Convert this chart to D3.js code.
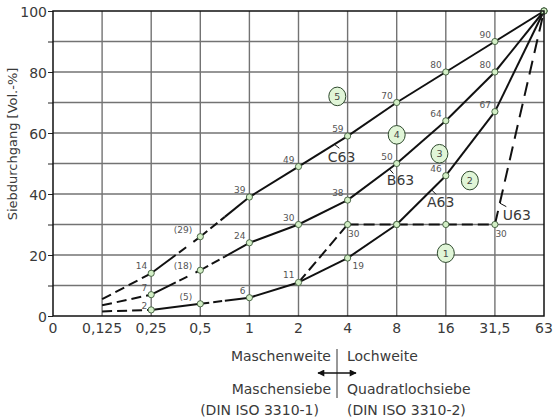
<!DOCTYPE html>
<html>
<head>
<meta charset="utf-8">
<script src="https://cdn.jsdelivr.net/npm/d3@7"></script>
<style>
body { margin: 0; background: #fff; }
text { font-family: "DejaVu Sans", "Liberation Sans", Arial, sans-serif; }
</style>
</head>
<body>
<div id="chart"></div>
<script>
/* Siebweiten (mm), Index 0..10 */
var sieveSizes = ["0", "0,125", "0,25", "0,5", "1", "2", "4", "8", "16", "31,5", "63"];
var yTicks = [0, 10, 20, 30, 40, 50, 60, 70, 80, 90, 100];

/* Siebdurchgang ab Sieb 0,125 (Index 1) bis 63 (Index 10) */
var c63 = [5.5, 14, 26, 39, 49, 59, 70, 80, 90, 100];
var b63 = [3.5, 7, 15, 24, 30, 38, 50, 64, 80, 100];
var a63 = [1.5, 2, 4, 6, 11, 19, 30, 46, 67, 100];
var u63 = [null, null, null, null, 11, 30, 30, 30, 30, 100];

var c63Labels = [null, "14", "(29)", "39", "49", "59", "70", "80", "90", null];
var b63Labels = [null, "7", "(18)", "24", "30", "38", "50", "64", "80", null];
var a63Labels = [null, "2", "(5)", "6", "11", "19", null, "46", "67", null];
var u63Labels = [null, null, null, null, null, "30", null, null, "30", null];

var curveNames = ["C63", "B63", "A63", "U63"];

/* Bereichsnummern: Lage als Siebindex und Durchgang */
var zoneNumbers = ["1", "2", "3", "4", "5"];
var zoneIndex = [8, 8.49, 7.87, 7, 5.79];
var zoneValue = [20.6, 44.4, 53.2, 59.4, 72];

var width = 555,
    height = 419,
    margin = {top: 11, right: 11, bottom: 103, left: 53};

var svg = d3.select("#chart").append("svg")
    .attr("width", width)
    .attr("height", height);

var x = d3.scaleLinear().domain([0, sieveSizes.length - 1]).range([margin.left, width - margin.right]),
    y = d3.scaleLinear().domain([0, 100]).range([height - margin.bottom, margin.top]);

/* grid */
var grid = svg.append("g");
grid.selectAll("line.v")
    .data(d3.range(1, sieveSizes.length - 1))
    .enter().append("line")
    .attr("x1", function(d) { return x(d); })
    .attr("x2", function(d) { return x(d); })
    .attr("y1", y(0))
    .attr("y2", y(100))
    .attr("stroke", "#737373")
    .attr("stroke-width", 1.4);
grid.selectAll("line.h")
    .data(yTicks.slice(1, -1))
    .enter().append("line")
    .attr("x1", x(0))
    .attr("x2", x(10))
    .attr("y1", function(d) { return y(d); })
    .attr("y2", function(d) { return y(d); })
    .attr("stroke", "#737373")
    .attr("stroke-width", 1.4);

/* axes */
var yAxis = d3.axisLeft(y)
    .tickValues(yTicks)
    .tickSize(5)
    .tickPadding(1)
    .tickFormat(function(d) { return d % 20 == 0 ? d : ""; });

var gy = svg.append("g")
    .attr("transform", "translate(" + margin.left + ",0)")
    .call(yAxis);
gy.select(".domain").remove();
gy.selectAll("line").attr("stroke", "#222").attr("stroke-width", 1);
gy.selectAll("text")
    .attr("font-size", 14)
    .attr("fill", "#3a3a3a")
    .attr("font-family", "DejaVu Sans, Liberation Sans, Arial, sans-serif")
    .attr("dy", "0.42em");

svg.append("g").selectAll("text")
    .data(sieveSizes)
    .enter().append("text")
    .attr("x", function(d, i) { return x(i); })
    .attr("y", y(0) + 16.5)
    .attr("text-anchor", "middle")
    .attr("font-size", 14)
    .attr("fill", "#3a3a3a")
    .text(function(d) { return d; });

svg.append("text")
    .attr("transform", "translate(17,144) rotate(-90)")
    .attr("text-anchor", "middle")
    .attr("font-size", 13)
    .attr("fill", "#3a3a3a")
    .text("Siebdurchgang [Vol.-%]");

/* curves */
var curves = [
    {name: "C63", values: c63, labels: c63Labels,
     seg: ["ext", "solidDash", "dashSolid", "solid", "solid", "solid", "solid", "solid", "solid"]},
    {name: "B63", values: b63, labels: b63Labels,
     seg: ["ext", "solidDash", "dashSolid", "solid", "solid", "solid", "solid", "solid", "solid"]},
    {name: "A63", values: a63, labels: a63Labels,
     seg: ["ext", "solid", "dashSolid", "solid", "solid", "solid", "solid", "solid", "solid"]},
    {name: "U63", values: u63, labels: u63Labels,
     seg: [null, null, null, null, "long", "long", "long", "long", "steep"]}
];

var lines = svg.append("g")
    .attr("fill", "none")
    .attr("stroke", "#111")
    .attr("stroke-width", 2);

function drawPart(x1, y1, x2, y2, dash) {
    var l = lines.append("line")
        .attr("x1", x1).attr("y1", y1)
        .attr("x2", x2).attr("y2", y2);
    if (dash) l.attr("stroke-dasharray", dash);
}

curves.forEach(function(c) {
    c.seg.forEach(function(s, i) {
        if (!s) return;
        var x1 = x(i + 1), y1 = y(c.values[i]),
            x2 = x(i + 2), y2 = y(c.values[i + 1]),
            xm = (x1 + x2) / 2, ym = (y1 + y2) / 2;
        if (s == "solid") drawPart(x1, y1, x2, y2);
        else if (s == "ext") drawPart(x1, y1, x2, y2, "10,5");
        else if (s == "long") drawPart(x1, y1, x2, y2, "11,5");
        else if (s == "steep") drawPart(x1, y1, x2, y2, "14,8");
        else if (s == "solidDash") {
            drawPart(x1, y1, xm, ym);
            drawPart(xm, ym, x2, y2, "0,4,9,5");
        } else if (s == "dashSolid") {
            drawPart(x1, y1, xm, ym, "9,4");
            drawPart(xm, ym, x2, y2);
        }
    });
});

/* points */
var pts = [];
curves.forEach(function(c) {
    c.values.forEach(function(v, i) {
        if (v == null || i == 0) return;
        if (c.name == "U63" && (i == 4 || i == 9)) return;
        pts.push({curve: c.name, i: i + 1, v: v, label: c.labels[i]});
    });
});

svg.append("g").selectAll("circle")
    .data(pts)
    .enter().append("circle")
    .attr("cx", function(d) { return x(d.i); })
    .attr("cy", function(d) { return y(d.v); })
    .attr("r", 3.1)
    .attr("fill", "#d3efc6")
    .attr("stroke", "#3d5a3a")
    .attr("stroke-width", 0.9);

/* value labels */
svg.append("g").selectAll("text")
    .data(pts.filter(function(d) { return d.label; }))
    .enter().append("text")
    .attr("font-size", 9)
    .attr("fill", "#555")
    .attr("text-anchor", function(d) {
        return (d.curve == "U63" || (d.curve == "A63" && d.i == 6)) ? "start" : "end";
    })
    .attr("x", function(d) {
        if (d.curve == "U63") return x(d.i) + 0.5;
        if (d.curve == "A63" && d.i == 6) return x(d.i) + 5;
        if (d.i == 3) return x(d.i) - 8;
        return x(d.i) - 4;
    })
    .attr("y", function(d) {
        if (d.curve == "U63") return y(d.v) + 12;
        if (d.curve == "A63" && d.i == 6) return y(d.v) + 11;
        if (d.curve == "A63" && d.i == 2) return y(d.v) - 1;
        if (d.curve == "B63" && d.i == 3) return y(d.v) - 1;
        return y(d.v) - 4;
    })
    .text(function(d) { return d.label; });

/* curve names with leader lines */
var nameSpots = [
    {name: "C63", i: 6, t: 0.73, dx: 5, dy: 4, tx: -6.5, ty: 17.5},
    {name: "B63", i: 7, t: 0.85, dx: 4, dy: 4.5, tx: -2.5, ty: 16.5},
    {name: "A63", i: 8, t: 0.71, dx: 4.5, dy: 4.5, tx: -4.5, ty: 17.5},
    {name: "U63", i: 10, t: 0.1, dx: 6.5, dy: 3.5, tx: 3, ty: 17}
];

var nameG = svg.append("g");
nameSpots.forEach(function(s) {
    var c = curves[curveNames.indexOf(s.name)],
        v0 = c.values[s.i - 2], v1 = c.values[s.i - 1],
        px = x(s.i - 1 + s.t),
        py = y(v0 + (v1 - v0) * s.t);
    nameG.append("line")
        .attr("x1", px).attr("y1", py)
        .attr("x2", px + s.dx).attr("y2", py + s.dy)
        .attr("stroke", "#111")
        .attr("stroke-width", 1);
    nameG.append("text")
        .attr("x", px + s.tx)
        .attr("y", py + s.ty)
        .attr("font-size", 14)
        .attr("fill", "#3a3a3a")
        .text(s.name);
});

/* zone numbers */
var zones = svg.append("g").selectAll("g")
    .data(zoneNumbers)
    .enter().append("g")
    .attr("transform", function(d, i) { return "translate(" + x(zoneIndex[i]) + "," + y(zoneValue[i]) + ")"; });

zones.append("ellipse")
    .attr("rx", 8.5)
    .attr("ry", 9.3)
    .attr("fill", "#e0f5d7")
    .attr("stroke", "#2f4a2e")
    .attr("stroke-width", 1);

zones.append("text")
    .attr("text-anchor", "middle")
    .attr("dy", "0.36em")
    .attr("font-size", 9.5)
    .attr("fill", "#444")
    .text(function(d) { return d; });

/* frame */
svg.append("rect")
    .attr("x", x(0))
    .attr("y", y(100))
    .attr("width", x(10) - x(0))
    .attr("height", y(0) - y(100))
    .attr("fill", "none")
    .attr("stroke", "#111")
    .attr("stroke-width", 1.5);

/* Maschenweite / Lochweite */
var defs = svg.append("defs");
defs.append("marker")
    .attr("id", "arr")
    .attr("viewBox", "0 0 10 10")
    .attr("refX", 9)
    .attr("refY", 5)
    .attr("markerWidth", 8)
    .attr("markerHeight", 7)
    .attr("markerUnits", "userSpaceOnUse")
    .attr("orient", "auto-start-reverse")
    .append("path")
    .attr("d", "M0,0 L10,5 L0,10 Z")
    .attr("fill", "#111");

var midX = 337;
var note = svg.append("g");
note.append("line")
    .attr("x1", midX).attr("x2", midX)
    .attr("y1", 349).attr("y2", 398)
    .attr("stroke", "#333")
    .attr("stroke-width", 1);
note.append("line")
    .attr("x1", midX - 19).attr("x2", midX + 19)
    .attr("y1", 373).attr("y2", 373)
    .attr("stroke", "#111")
    .attr("stroke-width", 1.5)
    .attr("marker-start", "url(#arr)")
    .attr("marker-end", "url(#arr)");

var leftText = ["Maschenweite", "Maschensiebe", "(DIN ISO 3310-1)"],
    rightText = ["Lochweite", "Quadratlochsiebe", "(DIN ISO 3310-2)"],
    rowY = [361, 394, 415],
    leftEnd = [midX - 6, midX - 6, midX - 18];

note.selectAll("text.l")
    .data(leftText)
    .enter().append("text")
    .attr("x", function(d, i) { return leftEnd[i]; })
    .attr("y", function(d, i) { return rowY[i]; })
    .attr("text-anchor", "end")
    .attr("font-size", 14)
    .attr("fill", "#3a3a3a")
    .text(function(d) { return d; });

note.selectAll("text.r")
    .data(rightText)
    .enter().append("text")
    .attr("x", midX + 10)
    .attr("y", function(d, i) { return rowY[i]; })
    .attr("font-size", 14)
    .attr("fill", "#3a3a3a")
    .text(function(d) { return d; });
</script>
</body>
</html>
